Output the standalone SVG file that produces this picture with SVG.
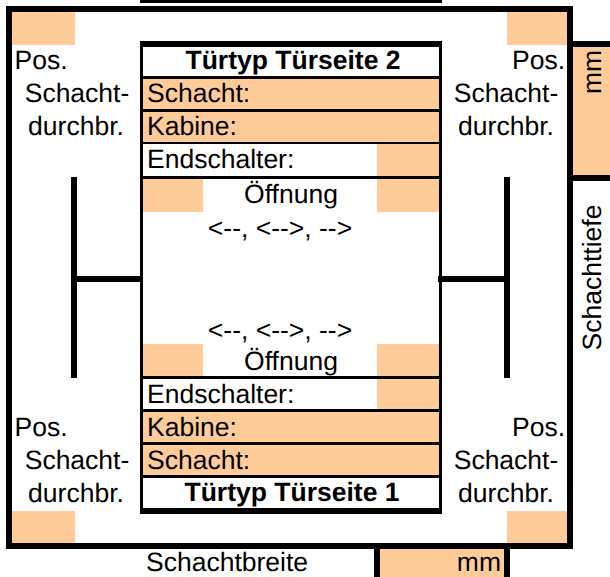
<svg xmlns="http://www.w3.org/2000/svg" width="610" height="577" viewBox="0 0 610 577">
<style>
text{font-family:"Liberation Sans",Arial,sans-serif;font-size:26.5px;fill:#000;text-rendering:geometricPrecision}
.b{font-weight:bold}
.m{text-anchor:middle}
.e{text-anchor:end}
.p{fill:#ffcc99}
.k{fill:#000}
</style>
<rect width="610" height="577" fill="#fff"/>
<g id="shaft">
<rect class="k" x="140" y="0" width="302" height="3"/>
<rect x="9" y="9" width="561" height="537" fill="#fff" stroke="#000" stroke-width="6"/>
<rect class="p" x="12" y="12" width="63" height="33"/>
<rect class="p" x="507" y="12" width="60" height="33"/>
<rect class="p" x="12" y="511" width="63" height="32"/>
<rect class="p" x="507" y="511" width="60" height="32"/>
</g>
<g id="depth-field">
<rect class="p" x="573" y="47" width="37" height="128"/>
<rect class="k" x="573" y="41" width="37" height="6"/>
<rect class="k" x="573" y="175" width="37" height="6"/>
<text transform="translate(601 94) rotate(-90)">mm</text>
<text class="m" transform="translate(601 277.500) rotate(-90)">Schachttiefe</text>
</g>
<g id="width-field">
<rect class="p" x="380" y="549" width="124" height="28"/>
<rect class="k" x="374" y="549" width="6" height="28"/>
<rect class="k" x="504" y="549" width="6" height="28"/>
<text x="146" y="571">Schachtbreite</text>
<text class="e" x="501" y="571">mm</text>
</g>
<g id="pos-top-left">
<text x="14.500" y="69">Pos.</text>
<text class="m" x="77" y="102">Schacht-</text>
<text class="m" x="76" y="135">durchbr.</text>
</g>
<g id="pos-top-right">
<text class="e" x="565" y="69">Pos.</text>
<text class="m" x="506" y="102">Schacht-</text>
<text class="m" x="506" y="135">durchbr.</text>
</g>
<g id="pos-bottom-left">
<text x="14.500" y="436">Pos.</text>
<text class="m" x="77" y="469">Schacht-</text>
<text class="m" x="76" y="502">durchbr.</text>
</g>
<g id="pos-bottom-right">
<text class="e" x="565" y="436">Pos.</text>
<text class="m" x="506" y="469">Schacht-</text>
<text class="m" x="506" y="502">durchbr.</text>
</g>
<g id="car">
<rect class="k" x="140" y="41" width="302" height="473"/>
<rect x="143" y="47" width="296" height="461" fill="#fff"/>
<rect class="p" x="143" y="79" width="296" height="30"/>
<rect class="p" x="143" y="112" width="296" height="30"/>
<rect class="p" x="377" y="144" width="62" height="32"/>
<rect class="p" x="143" y="179" width="60" height="33"/>
<rect class="p" x="377" y="179" width="62" height="33"/>
<rect class="p" x="143" y="344" width="60" height="32"/>
<rect class="p" x="377" y="344" width="62" height="32"/>
<rect class="p" x="377" y="379" width="62" height="30"/>
<rect class="p" x="143" y="412" width="296" height="30"/>
<rect class="p" x="143" y="445" width="296" height="30"/>
<rect class="k" x="143" y="76" width="296" height="3"/>
<rect class="k" x="143" y="109" width="296" height="3"/>
<rect class="k" x="143" y="142" width="296" height="2"/>
<rect class="k" x="143" y="176" width="296" height="3"/>
<rect class="k" x="143" y="376" width="296" height="3"/>
<rect class="k" x="143" y="409" width="296" height="3"/>
<rect class="k" x="143" y="442" width="296" height="3"/>
<rect class="k" x="143" y="475" width="296" height="3"/>
<text class="b m" x="293" y="69">Türtyp Türseite 2</text>
<text x="147" y="102">Schacht:</text>
<text x="147" y="135">Kabine:</text>
<text x="147" y="168">Endschalter:</text>
<text class="m" x="291" y="203">Öffnung</text>
<text class="m" x="280" y="237">&lt;--, &lt;--&gt;, --&gt;</text>
<text class="m" x="280" y="339">&lt;--, &lt;--&gt;, --&gt;</text>
<text class="m" x="291" y="370">Öffnung</text>
<text x="147" y="403">Endschalter:</text>
<text x="147" y="436">Kabine:</text>
<text x="147" y="469">Schacht:</text>
<text class="b m" x="292" y="501">Türtyp Türseite 1</text>
</g>
<g id="connectors">
<rect class="k" x="71" y="177" width="6" height="201"/>
<rect class="k" x="77" y="276" width="63" height="6"/>
<rect class="k" x="504" y="177" width="6" height="201"/>
<rect class="k" x="438" y="276" width="66" height="6"/>
</g>
</svg>
